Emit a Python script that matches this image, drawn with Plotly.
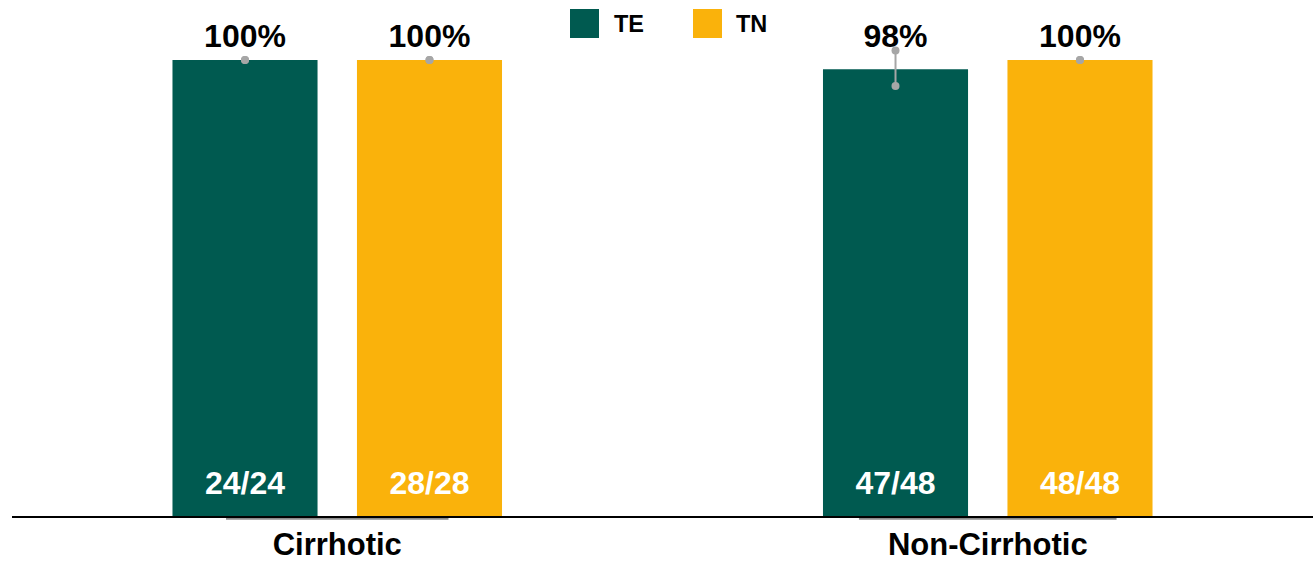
import plotly.graph_objects as go
import numpy as np

categories = ["Cirrhotic", "Non-Cirrhotic"]
series_names = ["TE", "TN"]
series_colors = ["#005A50", "#FAB20B"]
values = {"TE": [100, 98], "TN": [100, 100]}
counts = {"TE": ["24/24", "47/48"], "TN": ["28/28", "48/48"]}
pct_labels = {"TE": ["100%", "98%"], "TN": ["100%", "100%"]}
ci_low = {"TE": [100, 94.3], "TN": [100, 100]}
ci_high = {"TE": [100, 102.1], "TN": [100, 100]}

FONT = "Liberation Sans, Arial, sans-serif"
W, H = 1313, 562
ML, MR, MT, MB = 12, 0, 0, 46
plot_w = W - ML - MR
plot_h = H - MT - MB

bar_w = 0.223
offsets = [-0.1418, 0.1418]
ymax = 113.16
pct_y = 104.5
count_y = 6.5
err_color = "#A6A6A6"

base = np.arange(len(categories))
fig = go.Figure()

for s, name in enumerate(series_names):
    xs = base + offsets[s]
    fig.add_trace(go.Bar(
        x=xs, y=values[name], width=bar_w, name=name,
        marker=dict(color=series_colors[s], line=dict(width=0)),
        showlegend=False, hoverinfo="skip",
    ))
    for i, x in enumerate(xs):
        fig.add_trace(go.Scatter(
            x=[x, x], y=[ci_low[name][i], ci_high[name][i]],
            mode="lines+markers",
            line=dict(color=err_color, width=2),
            marker=dict(color=err_color, size=8),
            showlegend=False, hoverinfo="skip",
        ))
    fig.add_trace(go.Scatter(
        x=xs, y=[pct_y] * len(xs), mode="text", text=pct_labels[name],
        textfont=dict(family=FONT, size=32, color="#000000", weight="bold"),
        showlegend=False, hoverinfo="skip",
    ))
    fig.add_trace(go.Scatter(
        x=xs, y=[count_y] * len(xs), mode="text", text=counts[name],
        textfont=dict(family=FONT, size=32, color="#FFFFFF", weight="bold"),
        showlegend=False, hoverinfo="skip",
    ))

# grey shadow lines under axis
shadow_half = [0.171, 0.198]
shapes = []
for i, hw in enumerate(shadow_half):
    shapes.append(dict(type="line", xref="x", yref="paper",
                       x0=base[i] - hw, x1=base[i] + hw,
                       y0=-2.5 / plot_h, y1=-2.5 / plot_h,
                       line=dict(color="#8C8C8C", width=2.5), layer="below"))

# custom legend
def px_x(px):
    return (px - ML) / plot_w

def px_y(py):
    return (MT + plot_h - py) / plot_h

legend_sq_left = [570, 693]
legend_txt_left = [612, 734]
annotations = []
for s, name in enumerate(series_names):
    shapes.append(dict(type="rect", xref="paper", yref="paper",
                       x0=px_x(legend_sq_left[s]), x1=px_x(legend_sq_left[s] + 29),
                       y0=px_y(38), y1=px_y(9),
                       fillcolor=series_colors[s], line=dict(width=0)))
    annotations.append(dict(xref="paper", yref="paper",
                            x=px_x(legend_txt_left[s]), y=px_y(24.5),
                            xanchor="left", yanchor="middle", showarrow=False,
                            text=name,
                            font=dict(family=FONT, size=23.5, color="#000000", weight="bold")))

fig.update_layout(
    width=W, height=H,
    margin=dict(l=ML, r=MR, t=MT, b=MB),
    paper_bgcolor="white", plot_bgcolor="white",
    barmode="overlay",
    shapes=shapes, annotations=annotations,
    xaxis=dict(range=[-0.5, 1.5], tickvals=base, ticktext=categories,
               showgrid=False, zeroline=False, showline=True,
               linecolor="#000000", linewidth=2, ticks="",
               tickfont=dict(family=FONT, size=31, color="#000000", weight="bold")),
    yaxis=dict(range=[0, ymax], visible=False, showgrid=False, zeroline=False),
)

fig.write_html("out.html", config={"displayModeBar": False},
               post_script="document.body.style.margin='0';")
